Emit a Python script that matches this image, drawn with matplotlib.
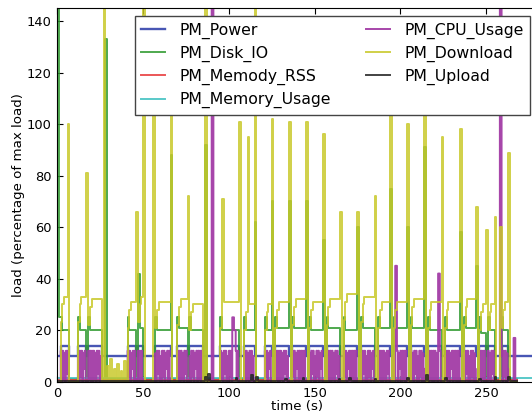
import numpy as np
import matplotlib.pyplot as plt

# =========================
# Data (time in seconds, load in % of max)
# =========================
t_end = 267          # most counters stop here
t_axis_end = 280     # power / memory keep going to the edge

# active phases of the workload (start, end)
block_start = [2, 12, 18, 41, 47, 57, 70, 77, 95, 109, 121, 127, 137, 147, 157,
               167, 177, 187, 196, 206, 216, 226, 237, 246, 251, 259]
block_end = [7, 17, 26, 46, 50, 66, 76, 85, 106, 115, 125, 135, 145, 155, 165,
             175, 185, 194, 204, 214, 224, 235, 244, 250, 255, 263]

# plateau levels per phase
download_level = [33, 33, 32, 31, 33, 31, 32, 30, 31, 30, 30, 31, 32, 31, 32,
                  34, 33, 31, 31, 32, 31, 31, 32, 30, 30, 31]
disk_level = [20, 20, 20, 20, 21, 20, 21, 20, 20, 20, 20, 21, 21, 20, 21,
              20, 21, 21, 21, 21, 20, 20, 21, 19, 20, 20]
power_idle = 10
power_busy = 14

# cpu samples (every 0.5 s) inside a busy phase, dense on/off
cpu_busy_samples = [12, 0, 12, 1, 11, 0, 12, 3, 12, 0, 10, 0, 12, 2, 12, 0,
                    11, 5, 12, 0, 12, 1, 12, 0]

# short download bursts
download_spike_t = [6, 17, 27, 46, 50, 56, 66, 76, 86, 96, 106, 111, 115, 125,
                    135, 145, 155, 165, 175, 185, 194, 204, 214, 224, 235, 244,
                    250, 255, 258, 263]
download_spike_h = [100, 81, 150, 66, 150, 125, 130, 72, 150, 71, 101, 95, 150,
                    102, 101, 101, 96, 66, 66, 72, 120, 100, 118, 95, 98, 68,
                    59, 64, 60, 89]

# small download activity in the long idle gap
download_gap_t = [29, 31, 33, 35, 37, 39]
download_gap_h = [6, 9, 5, 7, 4, 8]

# disk bursts
disk_spike_t = [0, 28, 47, 66, 86, 115, 125, 135, 145, 155, 175, 194, 204, 214, 235, 244]
disk_spike_h = [300, 133, 42, 88, 92, 62, 70, 70, 70, 55, 60, 75, 60, 91, 58, 45]

# cpu bursts
cpu_spike_t = [90, 102, 103, 197, 222, 258, 266]
cpu_spike_h = [150, 25, 20, 45, 42, 150, 17]

# upload bumps
upload_bump_t = [86, 88, 104, 113, 116, 133, 143, 164, 170, 185, 204, 215, 226, 246, 255, 263]
upload_bump_h = [2, 3, 1.5, 2.5, 2, 1, 1.5, 1, 1.5, 1, 1.5, 2.5, 1.5, 1, 2, 2]

memory_usage_level = 1.3
memory_rss_level = 0.5

labels = ["PM_Power", "PM_Disk_IO", "PM_Memody_RSS", "PM_Memory_Usage",
          "PM_CPU_Usage", "PM_Download", "PM_Upload"]
colors = ["#3444ac", "#2f9a2f", "#e8383a", "#3cc0c0", "#a23ca6", "#c8c828", "#222222"]
widths = [1.7, 1.4, 1.4, 1.4, 1.4, 1.4, 1.4]
alphas = [0.9, 0.85, 0.85, 0.85, 0.95, 0.85, 0.85]

# =========================
# Build step series (1 s samples, cpu at 0.5 s)
# =========================
t = np.arange(0, t_axis_end + 1)
n = len(t)
power = np.full(n, float(power_idle))
disk = np.full(n, 1.0)
download = np.zeros(n)
upload = np.full(n, 0.2)
mem = np.full(n, memory_usage_level)
rss = np.full(n, memory_rss_level)
mem[t_end - 2:] = 1.6

t_cpu = np.arange(0, t_axis_end + 0.5, 0.5)
cpu = np.zeros(len(t_cpu))

k = 0
for s, e, dl, dk in zip(block_start, block_end, download_level, disk_level):
    power[s:e] = power_busy
    download[s] = dl - 10
    download[s + 1] = dl - 3
    download[s + 2:e] = dl
    disk[s] = 25
    disk[s + 1:e] = dk
    for i in range(2 * s, 2 * e):
        cpu[i] = cpu_busy_samples[k % len(cpu_busy_samples)]
        k += 1

for ts, h in zip(download_gap_t, download_gap_h):
    download[ts] = h
for ts, h in zip(download_spike_t, download_spike_h):
    download[ts] = h
for ts, h in zip(disk_spike_t, disk_spike_h):
    disk[ts] = h
disk[1:2] = 25
for ts, h in zip(cpu_spike_t, cpu_spike_h):
    cpu[2 * ts:2 * ts + 2] = h
for ts, h in zip(upload_bump_t, upload_bump_h):
    upload[ts] = h

# counters that stop early
for arr in (disk, download, upload, rss):
    arr[t_end + 1:] = np.nan
cpu[2 * t_end + 2:] = np.nan

series = [(t, power), (t, disk), (t, rss), (t, mem), (t_cpu, cpu), (t, download), (t, upload)]

# =========================
# Draw
# =========================
plt.rcParams["font.family"] = "DejaVu Sans"
plt.rcParams["xtick.direction"] = "in"
plt.rcParams["ytick.direction"] = "in"
plt.rcParams["xtick.top"] = True
plt.rcParams["ytick.right"] = True

fig = plt.figure(figsize=(5.32, 4.12), dpi=100)
ax = fig.add_axes([57.3 / 532, 30.3 / 412, (537.6 - 57.3) / 532, (381.7 - 8.3) / 412])

for (x, y), lab, col, lw, a in zip(series, labels, colors, widths, alphas):
    ax.plot(x, y, drawstyle="steps-post", color=col, linewidth=lw, alpha=a, label=lab)

ax.set_xlim(0, 280)
ax.set_ylim(0, 145)
ax.set_xticks([0, 50, 100, 150, 200, 250])
ax.set_yticks([0, 20, 40, 60, 80, 100, 120, 140])
ax.tick_params(labelsize=9.4, length=4, pad=4)
ax.set_xlabel("time (s)", fontsize=9.6, labelpad=0)
ax.set_ylabel("load (percentage of max load)", fontsize=9.6, labelpad=1)

leg = ax.legend(loc="upper right", ncol=2, fontsize=11.3, handlelength=1.55,
                handletextpad=0.9, columnspacing=2.2, labelspacing=0.45,
                borderpad=0.4, fancybox=False, framealpha=1.0)
leg.get_frame().set_edgecolor("#444444")
leg.get_frame().set_linewidth(1.0)

fig.savefig("out.png", dpi=100, facecolor="white")
